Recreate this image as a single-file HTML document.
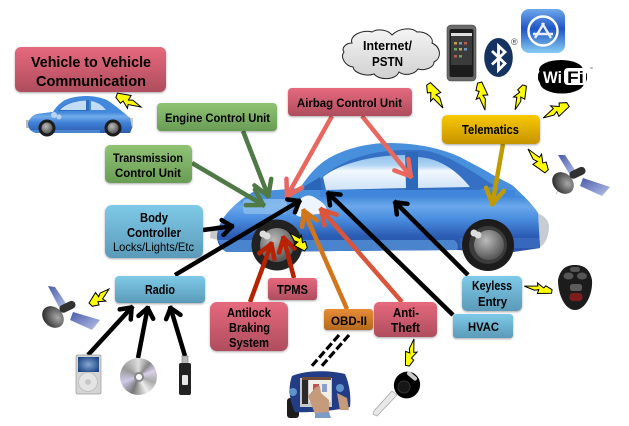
<!DOCTYPE html>
<html><head><meta charset="utf-8"><style>
html,body{margin:0;padding:0;background:#fff}
svg{display:block;position:absolute;left:0;top:0}
text{font-family:"Liberation Sans",sans-serif;font-weight:bold;fill:#000;text-anchor:start}
</style></head><body>
<svg width="629" height="426" viewBox="0 0 629 426" xmlns="http://www.w3.org/2000/svg">
<defs>
<linearGradient id="r" x1="0" y1="0" x2="0" y2="1"><stop offset="0" stop-color="#e6697d"/><stop offset="1" stop-color="#ae4d5e"/></linearGradient>
<linearGradient id="g" x1="0" y1="0" x2="0" y2="1"><stop offset="0" stop-color="#8fc373"/><stop offset="1" stop-color="#699c55"/></linearGradient>
<linearGradient id="b" x1="0" y1="0" x2="0" y2="1"><stop offset="0" stop-color="#7ecae8"/><stop offset="1" stop-color="#5a9ab8"/></linearGradient>
<linearGradient id="y" x1="0" y1="0" x2="0" y2="1"><stop offset="0" stop-color="#f8c800"/><stop offset="1" stop-color="#c69400"/></linearGradient>
<linearGradient id="o" x1="0" y1="0" x2="0" y2="1"><stop offset="0" stop-color="#e88c35"/><stop offset="1" stop-color="#b4691f"/></linearGradient>
<linearGradient id="side" gradientUnits="userSpaceOnUse" x1="0" y1="196" x2="0" y2="252"><stop offset="0" stop-color="#3f86da"/><stop offset=".18" stop-color="#6ca8ea"/><stop offset=".4" stop-color="#4a8ee0"/><stop offset=".72" stop-color="#2c5cb4"/><stop offset="1" stop-color="#2a54a8"/></linearGradient>
<linearGradient id="side2" gradientUnits="userSpaceOnUse" x1="0" y1="112" x2="0" y2="134"><stop offset="0" stop-color="#3f86da"/><stop offset=".2" stop-color="#72acec"/><stop offset=".5" stop-color="#3f80d6"/><stop offset="1" stop-color="#2a58ac"/></linearGradient>
<linearGradient id="win" x1="0" y1="0" x2="0" y2="1"><stop offset="0" stop-color="#8dc0ec"/><stop offset=".3" stop-color="#b4d6f4"/><stop offset=".45" stop-color="#f2f8fe"/><stop offset="1" stop-color="#cfe3f7"/></linearGradient>
<linearGradient id="app" x1="0" y1="0" x2="0" y2="1"><stop offset="0" stop-color="#6fa8ea"/><stop offset=".45" stop-color="#1f55c6"/><stop offset="1" stop-color="#86ccf2"/></linearGradient>
<linearGradient id="cl" x1="0" y1="0" x2="0" y2="1"><stop offset="0" stop-color="#f4f4f4"/><stop offset="1" stop-color="#d0d0d0"/></linearGradient>
<linearGradient id="sat" x1="0" y1="0" x2="1" y2="1"><stop offset="0" stop-color="#4a5aa8"/><stop offset="1" stop-color="#b6c4ea"/></linearGradient>
<radialGradient id="hub" cx=".4" cy=".35" r=".7"><stop offset="0" stop-color="#bbb"/><stop offset="1" stop-color="#4e4e4e"/></radialGradient>
<radialGradient id="dish" cx=".65" cy=".35" r=".75"><stop offset="0" stop-color="#a8a8a8"/><stop offset="1" stop-color="#242424"/></radialGradient>
<radialGradient id="ipd" cx=".5" cy=".5" r=".6"><stop offset="0" stop-color="#86a8d4"/><stop offset="1" stop-color="#1d4684"/></radialGradient>
<clipPath id="carclip"><path d="M217,238 C217,228 222,218 230,210 C236,204 240,200 253,192 L300,188 C308,176 315,168 323,162 C340,150 365,143 390,143 C420,143 445,150 460,157 C475,165 485,170 493,175 L512,185 C522,194 532,204 538,213 L540,248 L513,252 L457,250 L227,252 C222,250 218,245 217,238 Z"/></clipPath>
<clipPath id="smclip"><path d="M28,123 C30,118 33,115 37,114 L53,112 C57,105 62,102 65,100 C72,97 80,96 87,96 C95,96 102,98 107,100 C115,105 124,113 130,118 L132,128 L130,133 L36,133 C30,131 28,128 28,123 Z"/></clipPath>
<filter id="s" x="-10%" y="-10%" width="120%" height="130%"><feDropShadow dx="0" dy="1" stdDeviation="1" flood-color="#000" flood-opacity=".35"/></filter>
<filter id="bl" x="-5%" y="-5%" width="110%" height="110%"><feGaussianBlur stdDeviation=".35"/></filter>
<polygon id="bolt" vector-effect="non-scaling-stroke" points="0,-.3 .5,-.5 .47,-.13 .62,-.24 1,0 .52,.18 .55,.45 .3,.08 .24,.3 0,.03" fill="#ffff00" stroke="#000" stroke-width="1"/>
<marker id="mK" markerUnits="userSpaceOnUse" markerWidth="30" markerHeight="30" refX="16" refY="15" orient="auto" overflow="visible"><path d="M4.500,7.500 L14,15 L4.500,22.500" fill="none" stroke="#000" stroke-width="4.500" stroke-linecap="round" stroke-linejoin="round"/></marker>
<marker id="mG" markerUnits="userSpaceOnUse" markerWidth="30" markerHeight="30" refX="16" refY="15" orient="auto" overflow="visible"><path d="M-1,6 L14,15 L-1,24" fill="none" stroke="#4f7a45" stroke-width="4.500" stroke-linecap="round" stroke-linejoin="round"/></marker>
<marker id="mP" markerUnits="userSpaceOnUse" markerWidth="30" markerHeight="30" refX="16" refY="15" orient="auto" overflow="visible"><path d="M-1,6 L14,15 L-1,24" fill="none" stroke="#e8685f" stroke-width="4.500" stroke-linecap="round" stroke-linejoin="round"/></marker>
<marker id="mY" markerUnits="userSpaceOnUse" markerWidth="30" markerHeight="30" refX="16" refY="15" orient="auto" overflow="visible"><path d="M-1,6 L14,15 L-1,24" fill="none" stroke="#c09a00" stroke-width="4.500" stroke-linecap="round" stroke-linejoin="round"/></marker>
<marker id="mR" markerUnits="userSpaceOnUse" markerWidth="30" markerHeight="30" refX="16" refY="15" orient="auto" overflow="visible"><path d="M1,7 L14,15 L1,23" fill="none" stroke="#b82200" stroke-width="4.500" stroke-linecap="round" stroke-linejoin="round"/></marker>
<marker id="mO" markerUnits="userSpaceOnUse" markerWidth="30" markerHeight="30" refX="16" refY="15" orient="auto" overflow="visible"><path d="M0,7 L14,15 L0,23" fill="none" stroke="#d2761f" stroke-width="4.500" stroke-linecap="round" stroke-linejoin="round"/></marker>
<marker id="mT" markerUnits="userSpaceOnUse" markerWidth="30" markerHeight="30" refX="16" refY="15" orient="auto" overflow="visible"><path d="M0,7 L14,15 L0,23" fill="none" stroke="#d9553a" stroke-width="4.500" stroke-linecap="round" stroke-linejoin="round"/></marker>
</defs>
<g filter="url(#bl)">
<!-- small car -->
<rect x="26" y="120" width="4" height="8" fill="#bbb"/><rect x="130" y="118" width="3" height="10" fill="#ccc"/>
<g clip-path="url(#smclip)">
<rect x="25" y="94" width="110" height="42" fill="#4288dc"/>
<rect x="25" y="112" width="110" height="22" fill="url(#side2)"/>
<path d="M58,111 C64,103 76,100 89,100 L89,111 Z" fill="#2f6cc0"/>
<path d="M60,110 C65,104 75,101 86,100.500 L86,110 Z" fill="#c2dcf6"/>
<path d="M91,101 C97,102 102,105 106,110 L91,110 Z" fill="#c2dcf6"/>
<rect x="30" y="130" width="70" height="3" fill="#4a84cc"/>
</g>
<circle cx="54" cy="115" r="3" fill="#b8d4f2"/><circle cx="59" cy="117" r="2.500" fill="#b8d4f2"/>
<circle cx="47" cy="128" r="8.500" fill="#1c1c1c"/><circle cx="47" cy="128" r="5.500" fill="url(#hub)"/>
<circle cx="113" cy="128" r="8.500" fill="#1c1c1c"/><circle cx="113" cy="128" r="5.500" fill="url(#hub)"/>

<!-- big car -->
<path d="M535,212 C545,216 549,220 549,228 C548,238 545,246 536,249 Z" fill="#c6ccd2"/>
<path d="M222,224 L211,227 L210,238 L222,241 Z" fill="#c8c8c8"/>
<g clip-path="url(#carclip)">
<rect x="210" y="140" width="340" height="115" fill="#4a90dc"/>
<path d="M320,179 C345,156 380,150 407,150 L420,150 C445,152 470,170 495,186 L470,192 L320,192 Z" fill="#3470c4"/>
<rect x="210" y="196" width="340" height="58" fill="url(#side)"/>
<rect x="210" y="190" width="110" height="8" fill="#4a90dc"/>
<rect x="320" y="190" width="195" height="7" fill="#3f86da"/>
<rect x="243" y="199" width="44" height="15" rx="4" fill="#8fc0ee" opacity=".75"/>
<path d="M323,177 C340,163 375,155 405,155 L406,188 L326,190 Z" fill="url(#win)"/>
<path d="M418,157 C440,158 458,172 470,187 L418,188 Z" fill="url(#win)"/>
<rect x="406" y="152" width="12" height="38" fill="#2f68b8"/>
<path d="M298,190 L320,177 L322,190 Z" fill="#2c66b8"/>
<path d="M218,240 L454,240 Q460,244 457,250 L225,252 Z" fill="#4a84cc"/>
<rect x="460" y="238" width="80" height="10" fill="#3768bc"/>
</g>
<path d="M295,212 C296,200 305,192 314,197 C320,201 325,203 327,210 C322,216 312,213 303,217 C298,217 295,215 295,212 Z" fill="#eef5fc"/>
<circle cx="277" cy="245" r="25.500" fill="#232323"/><circle cx="277" cy="245" r="17" fill="url(#hub)"/><circle cx="263" cy="234" r="3.500" fill="#ddd"/><circle cx="267" cy="236" r="3.500" fill="#ddd"/>
<circle cx="488" cy="245" r="26" fill="#1d1d1d"/><circle cx="488" cy="245" r="19" fill="#3a3a3a"/><circle cx="489" cy="245" r="15" fill="url(#hub)"/><circle cx="474" cy="233" r="3.500" fill="#ddd"/><circle cx="478" cy="235" r="3.500" fill="#ddd"/>

<!-- arrows -->
<g fill="none" stroke-width="4.500">
<line x1="243" y1="131" x2="269" y2="198" stroke="#4f7a45" marker-end="url(#mG)"/>
<line x1="192" y1="163" x2="265" y2="206" stroke="#4f7a45" marker-end="url(#mG)"/>
<line x1="332" y1="116" x2="286" y2="198" stroke="#e8685f" marker-end="url(#mP)"/>
<line x1="362" y1="116" x2="412" y2="178" stroke="#e8685f" marker-end="url(#mP)"/>
<line x1="503" y1="144" x2="492" y2="206" stroke="#c09a00" marker-end="url(#mY)"/>
<line x1="203" y1="230" x2="234" y2="226" stroke="#000" marker-end="url(#mK)"/>
<line x1="175" y1="275" x2="301" y2="200" stroke="#000" marker-end="url(#mK)"/>
<line x1="88" y1="355" x2="133" y2="306" stroke="#000" marker-end="url(#mK)"/>
<line x1="138" y1="358" x2="148" y2="306" stroke="#000" marker-end="url(#mK)"/>
<line x1="185" y1="356" x2="170" y2="306" stroke="#000" marker-end="url(#mK)"/>
<line x1="250" y1="302" x2="272" y2="242" stroke="#b82200" marker-end="url(#mR)"/>
<line x1="294" y1="278" x2="283" y2="236" stroke="#b82200" marker-end="url(#mR)"/>
<line x1="347" y1="309" x2="303" y2="209" stroke="#d2761f" marker-end="url(#mO)"/>
<line x1="402" y1="302" x2="320" y2="208" stroke="#d9553a" marker-end="url(#mT)"/>
<line x1="453" y1="315" x2="327" y2="192" stroke="#000" marker-end="url(#mK)"/>
<line x1="468" y1="275" x2="394" y2="201" stroke="#000" marker-end="url(#mK)"/>
<line x1="339" y1="335" x2="310" y2="368" stroke="#000" stroke-width="3.200" stroke-dasharray="8 3"/>
<line x1="349" y1="335" x2="320" y2="368" stroke="#000" stroke-width="3.200" stroke-dasharray="8 3"/>
</g>

<!-- cloud -->
<path d="M352,43 C349,36 362,29 372,32 C378,28 388,30 392,35 C399,28 412,27 417,32 C426,31 434,38 432,43 C441,47 442,58 434,62 C434,68 424,71 418,69 C414,75 404,76 399,72 C396,80 380,81 374,74 C366,77 354,73 353,67 C345,66 340,57 344,52 C341,48 346,43 352,43 Z" fill="url(#cl)" stroke="#222" stroke-width="1"/>

<!-- phone -->
<rect x="447" y="25" width="29" height="56" rx="4" fill="#6a6a6a" stroke="#444" stroke-width=".6"/>
<rect x="449.500" y="29" width="24" height="48" rx="2" fill="#1b1b1b"/>
<rect x="451" y="33" width="21" height="32" fill="#3b3b3b"/>
<rect x="451" y="33" width="21" height="3" fill="#dedede"/>
<g fill="#c0a050"><rect x="454" y="42" width="3" height="2.500"/><rect x="459" y="42" width="3" height="2.500" fill="#6a9ac0"/><rect x="464" y="42" width="3" height="2.500" fill="#b06050"/><rect x="454" y="48" width="3" height="2.500" fill="#70a060"/><rect x="459" y="48" width="3" height="2.500"/><rect x="464" y="48" width="3" height="2.500" fill="#6a9ac0"/><rect x="454" y="55" width="3" height="2.500" fill="#b06050"/><rect x="459" y="55" width="3" height="2.500" fill="#70a060"/></g>

<!-- bluetooth -->
<ellipse cx="498.500" cy="57.500" rx="14.300" ry="19.500" fill="#12305f"/>
<path d="M492,51 L505,63.500 L498.500,70 L498.500,46 L505,52 L492,64.500" fill="none" stroke="#fff" stroke-width="2.800"/>

<!-- app store -->
<rect x="521" y="9" width="44" height="44" rx="8" fill="url(#app)"/>
<circle cx="543" cy="31" r="14.500" fill="none" stroke="#fff" stroke-width="2.400"/>
<path d="M535,38 L544,23 M551,38 L542,23 M533,34 L553,34" stroke="#e8eefc" stroke-width="2.400" fill="none"/>

<!-- wifi -->
<ellipse cx="561" cy="70" rx="22" ry="10" fill="#000"/>
<ellipse cx="562" cy="83" rx="22" ry="10.500" fill="#000"/>
<rect x="538" y="69" width="49" height="16" rx="7" fill="#000"/>
<rect x="564" y="68" width="22" height="17" rx="4" fill="#fff"/>

<!-- right satellite -->
<polygon points="558,155 565,155 577,173 570,175" fill="url(#sat)"/>
<polygon points="583,178 610,187 602,196 580,186" fill="url(#sat)"/>
<line x1="562" y1="184" x2="556" y2="194" stroke="#bbb" stroke-width=".8"/>
<ellipse cx="563" cy="183" rx="12" ry="9.500" transform="rotate(45 563 183)" fill="url(#dish)"/>
<rect x="569" y="169" width="17" height="8" rx="4" transform="rotate(-25 577 173)" fill="#333"/>
<!-- left satellite -->
<polygon points="48,286 55,287 67,305 60,309" fill="url(#sat)"/>
<polygon points="73,312 100,320 92,330 70,320" fill="url(#sat)"/>
<line x1="52" y1="318" x2="47" y2="326" stroke="#bbb" stroke-width=".8"/>
<ellipse cx="53" cy="317" rx="12" ry="9.500" transform="rotate(45 53 317)" fill="url(#dish)"/>
<rect x="59" y="303" width="17" height="8" rx="4" transform="rotate(-25 67 307)" fill="#333"/>

<!-- ipod -->
<rect x="76" y="355" width="25" height="39" rx="1.500" fill="#d4d4d4" stroke="#9a9a9a" stroke-width=".7"/>
<rect x="78" y="357" width="21" height="15" fill="url(#ipd)"/>
<circle cx="88" cy="382" r="9.500" fill="#e4e4e4" stroke="#bbb" stroke-width=".8"/><circle cx="88" cy="382" r="3" fill="#c8c8c8"/>

<!-- usb -->
<rect x="182" y="356" width="6" height="8" fill="#b8b8b8" stroke="#666" stroke-width=".5"/>
<rect x="179" y="363" width="12" height="32" rx="2" fill="#222"/>
<rect x="182" y="375" width="6" height="10" rx="1" fill="#e8e8e8"/>

<!-- key fob -->
<path d="M575,265 C585,265 590,270 592,280 C593,295 585,310 575,310 C565,310 558,295 558,280 C560,270 565,265 575,265 Z" fill="#1c1c1c"/>
<rect x="570" y="267" width="10" height="5" rx="2.500" fill="#555"/>
<ellipse cx="568.500" cy="276" rx="5" ry="3.500" fill="#555"/><ellipse cx="582" cy="276" rx="5" ry="3.500" fill="#555"/>
<rect x="570" y="284" width="12" height="7" rx="2.500" fill="#5c5c5c"/>
<rect x="569.500" y="293" width="13" height="8" rx="3.500" fill="#7c1c1c"/>

<!-- key -->
<polygon points="392,391 397,395 377,416 373,414 374,411" fill="#e8e8e8" stroke="#aaa" stroke-width=".8"/>
<ellipse cx="407" cy="385" rx="13" ry="13.500" transform="rotate(30 407 385)" fill="#000"/>
<rect x="406" y="374" width="12" height="4" rx="2" transform="rotate(40 412 376)" fill="#ccc"/>
<circle cx="404" cy="387" r="6" fill="#151515" stroke="#333"/>

<!-- scanner -->
<rect x="287" y="398" width="12" height="20" rx="3" fill="#1a1a1a"/>
<path d="M292,376 C305,370 330,370 345,374 C350,385 351,398 350,407 C335,411 306,413 295,412 C289,400 288,387 292,376 Z" fill="#213d86"/>
<circle cx="293" cy="392" r="4" fill="#5f93cc"/><circle cx="340" cy="388" r="4" fill="#5f93cc"/>
<rect x="300" y="378" width="32" height="29" fill="#c8c8c8"/>
<rect x="302" y="380" width="6" height="24" fill="#2c2c2c"/>
<rect x="309" y="380" width="22" height="22" fill="#f1efea"/>
<rect x="302" y="377" width="29" height="3" fill="#6c4a3a"/>
<rect x="313" y="384" width="6" height="8" fill="#c85050"/><rect x="322" y="384" width="5" height="8" fill="#8aa0c8"/>
<path d="M308,396 L316,387 L320,386 L321,393 L329,400 L329,414 L315,414 Z" fill="#c69b7b"/>
<path d="M337,393 L347,398 L349,410 L340,410 Z" fill="#c69b7b"/>
<path d="M315,413 L329,412 L331,418 L315,418 Z" fill="#7a9cc6"/>

<!-- boxes -->
<g filter="url(#s)">
<rect x="15" y="47" width="151" height="45" rx="6" fill="url(#r)"/>
<rect x="157" y="103" width="120" height="28" rx="4" fill="url(#g)"/>
<rect x="105" y="145" width="87" height="38" rx="5" fill="url(#g)"/>
<rect x="288" y="88" width="124" height="28" rx="4" fill="url(#r)"/>
<rect x="442" y="115" width="98" height="29" rx="5" fill="url(#y)"/>
<rect x="105" y="205" width="98" height="53" rx="7" fill="url(#b)"/>
<rect x="115" y="276" width="90" height="27" rx="4" fill="url(#b)"/>
<rect x="268" y="278" width="49" height="22" rx="3" fill="url(#r)"/>
<rect x="210" y="302" width="78" height="49" rx="7" fill="url(#r)"/>
<rect x="324" y="309" width="49" height="21" rx="3" fill="url(#o)"/>
<rect x="374" y="302" width="63" height="35" rx="5" fill="url(#r)"/>
<rect x="462" y="276" width="60" height="35" rx="5" fill="url(#b)"/>
<rect x="453" y="314" width="60" height="24" rx="3" fill="url(#b)"/>
</g>
</g>

<!-- bolts (crisp) -->
<use href="#bolt" transform="translate(116,97) rotate(21.800) scale(27,14)"/>
<use href="#bolt" transform="translate(427,85) rotate(55.200) scale(28,14)"/>
<use href="#bolt" transform="translate(478,83) rotate(75.500) scale(28,13)"/>
<use href="#bolt" transform="translate(523,85) rotate(107.700) scale(26,12)"/>
<use href="#bolt" transform="translate(567,103) rotate(148) scale(28,14)"/>
<use href="#bolt" transform="translate(548,170) rotate(226.400) scale(29,14)"/>
<use href="#bolt" transform="translate(92,306) rotate(-45) scale(24,14)"/>
<use href="#bolt" transform="translate(307,248) rotate(221.400) scale(23,13)"/>
<use href="#bolt" transform="translate(552,290) rotate(188) scale(28,11)"/>
<use href="#bolt" transform="translate(409,366) rotate(-79.500) scale(27.500,12)"/>

<!-- labels (crisp) -->
<g>
<text x="31" y="67" font-size="15" textLength="120" lengthAdjust="spacingAndGlyphs">Vehicle to Vehicle</text>
<text x="36" y="86" font-size="15" textLength="110" lengthAdjust="spacingAndGlyphs">Communication</text>
<text x="165" y="122" font-size="12" textLength="105" lengthAdjust="spacingAndGlyphs">Engine Control Unit</text>
<text x="113" y="162" font-size="12" textLength="70" lengthAdjust="spacingAndGlyphs">Transmission</text>
<text x="115" y="177" font-size="12" textLength="66" lengthAdjust="spacingAndGlyphs">Control Unit</text>
<text x="297" y="107" font-size="12" textLength="105" lengthAdjust="spacingAndGlyphs">Airbag Control Unit</text>
<text x="462" y="134" font-size="12.500" textLength="57" lengthAdjust="spacingAndGlyphs">Telematics</text>
<text x="140" y="222" font-size="12.500" textLength="28" lengthAdjust="spacingAndGlyphs">Body</text>
<text x="127" y="237" font-size="12.500" textLength="54" lengthAdjust="spacingAndGlyphs">Controller</text>
<text x="113" y="251" font-size="12" textLength="81" lengthAdjust="spacingAndGlyphs" style="font-weight:normal">Locks/Lights/Etc</text>
<text x="145" y="294" font-size="12.500" textLength="30" lengthAdjust="spacingAndGlyphs">Radio</text>
<text x="277" y="294" font-size="12.500" textLength="31" lengthAdjust="spacingAndGlyphs">TPMS</text>
<text x="227" y="317" font-size="12.500" textLength="44" lengthAdjust="spacingAndGlyphs">Antilock</text>
<text x="229" y="332" font-size="12.500" textLength="41" lengthAdjust="spacingAndGlyphs">Braking</text>
<text x="229" y="347" font-size="12.500" textLength="40" lengthAdjust="spacingAndGlyphs">System</text>
<text x="331" y="325" font-size="12" textLength="36" lengthAdjust="spacingAndGlyphs">OBD-II</text>
<text x="393" y="317" font-size="12.500" textLength="26" lengthAdjust="spacingAndGlyphs">Anti-</text>
<text x="391" y="332" font-size="12.500" textLength="29" lengthAdjust="spacingAndGlyphs">Theft</text>
<text x="472" y="290" font-size="12.500" textLength="40" lengthAdjust="spacingAndGlyphs">Keyless</text>
<text x="478" y="306" font-size="12.500" textLength="29" lengthAdjust="spacingAndGlyphs">Entry</text>
<text x="468" y="331" font-size="12" textLength="31" lengthAdjust="spacingAndGlyphs">HVAC</text>
<text x="363" y="50" font-size="12.500" textLength="49" lengthAdjust="spacingAndGlyphs">Internet/</text>
<text x="372" y="66" font-size="12.500" textLength="31" lengthAdjust="spacingAndGlyphs">PSTN</text>
<text x="511" y="45" font-size="9" style="font-weight:normal;fill:#444">®</text>
<text x="543" y="83" font-size="16.500" textLength="19" lengthAdjust="spacingAndGlyphs" style="fill:#fff">Wi</text>
<text x="567" y="83" font-size="16.500" textLength="17" lengthAdjust="spacingAndGlyphs" style="fill:#000">Fi</text>
<text x="589" y="70" font-size="4" style="font-weight:normal;fill:#555">™</text>
</g>
</svg>
<div style="position:absolute;left:119.500px;top:357.500px;width:37px;height:37px;border-radius:50%;background:conic-gradient(#ddd,#888 40deg,#d8d0e8 70deg,#aaa 110deg,#eee 150deg,#777 200deg,#cfc9e8 250deg,#999 300deg,#ddd);filter:blur(.35px)"></div>
<div style="position:absolute;left:133.500px;top:371.500px;width:6px;height:6px;border-radius:50%;background:#fff;border:2px solid #888"></div>
</body></html>
